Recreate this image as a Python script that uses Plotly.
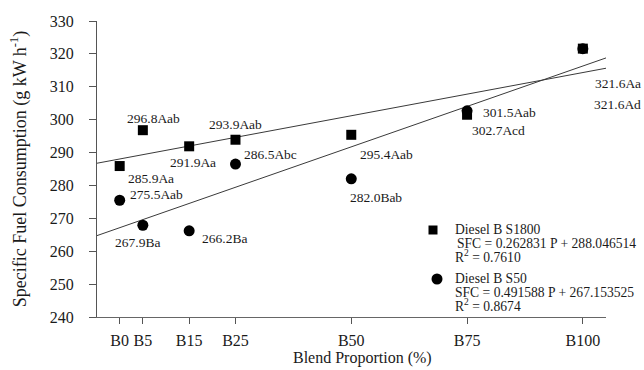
import numpy as np
import plotly.graph_objects as go

# ---------------- data ----------------
blend = [0, 5, 15, 25, 50, 75, 100]
tick_text = ["B0", "B5", "B15", "B25", "B50", "B75", "B100"]

s1800 = [285.9, 296.8, 291.9, 293.9, 295.4, 301.5, 321.6]
s1800_lbl = ["285.9Aa", "296.8Aab", "291.9Aa", "293.9Aab", "295.4Aab", "301.5Aab", "321.6Aa"]
s50 = [275.5, 267.9, 266.2, 286.5, 282.0, 302.7, 321.6]
s50_lbl = ["275.5Aab", "267.9Ba", "266.2Ba", "286.5Abc", "282.0Bab", "302.7Acd", "321.6Ad"]

# regression coefficients (slope, intercept) from the legend
fit_s1800 = (0.262831, 288.046514)
fit_s50 = (0.491588, 267.153525)

# ---------------- style ----------------
FONT = "Liberation Serif"
XR = [-4.9, 105.0]
YR = [240, 330]
L, R, T, B = 97, 38, 21, 53
W, H = 644, 370

# label offsets in pixels (dx, dy, xanchor) relative to marker
off_s1800 = [(31, -12, "center"), (11, 12, "center"), (4, -16, "center"), (0, 15, "center"),
             (35, -20, "center"), (42, 2, "center"), (60, -35, "right")]
off_s50 = [(37, 6, "center"), (-5, -17, "center"), (35, -8, "center"), (35, 10, "center"),
           (25, -19, "center"), (31, -20, "center"), (60, -56, "right")]

fig = go.Figure()

xl = np.array(XR)
for (m, b) in (fit_s1800, fit_s50):
    fig.add_trace(go.Scatter(x=xl, y=m * xl + b, mode="lines",
                             line=dict(color="#3a3a3a", width=1),
                             hoverinfo="skip", showlegend=False))

fig.add_trace(go.Scatter(x=blend, y=s1800, mode="markers",
                         marker=dict(symbol="square", size=10, color="black"),
                         showlegend=False, cliponaxis=False))
fig.add_trace(go.Scatter(x=blend, y=s50, mode="markers",
                         marker=dict(symbol="circle", size=11, color="black"),
                         showlegend=False, cliponaxis=False))

ann = []
for ys, ls, offs in ((s1800, s1800_lbl, off_s1800), (s50, s50_lbl, off_s50)):
    for x, y, t, (dx, dy, xa) in zip(blend, ys, ls, offs):
        ann.append(dict(x=x, y=y, xref="x", yref="y", text=t, showarrow=False,
                        xanchor=xa, xshift=dx, yshift=dy,
                        font=dict(family=FONT, size=13.5, color="#1a1a1a")))


def px2paper(X, Y):
    return (X - L) / float(W - L - R), (H - B - Y) / float(H - T - B)


# legend block
leg_rows = [
    (453, 229.5, "Diesel B S1800"),
    (455, 243, "SFC = 0.262831 P + 288.046514"),
    (453, 256.5, "R<sup>2</sup> = 0.7610"),
    (453, 278.5, "Diesel B S50"),
    (453, 292, "SFC = 0.491588 P + 267.153525"),
    (453, 305.5, "R<sup>2</sup> = 0.8674"),
]
for X, Y, t in leg_rows:
    px, py = px2paper(X, Y)
    ann.append(dict(x=px, y=py, xref="paper", yref="paper", text=t, showarrow=False,
                    xanchor="left", yanchor="middle",
                    font=dict(family=FONT, size=13.6, color="#1a1a1a")))

# x-axis title
tx, ty = px2paper(362, 358)
ann.append(dict(x=tx, y=ty, xref="paper", yref="paper", text="Blend Proportion (%)",
                showarrow=False, xanchor="center", yanchor="middle",
                font=dict(family=FONT, size=16, color="#1a1a1a")))

shapes = []
sx, sy = px2paper(433, 230)
shapes.append(dict(type="rect", xref="paper", yref="paper", xsizemode="pixel", ysizemode="pixel",
                   xanchor=sx, yanchor=sy, x0=-4.5, x1=4.5, y0=-4.5, y1=4.5,
                   fillcolor="black", line=dict(width=0)))
cx, cy = px2paper(437, 279)
shapes.append(dict(type="circle", xref="paper", yref="paper", xsizemode="pixel", ysizemode="pixel",
                   xanchor=cx, yanchor=cy, x0=-5.5, x1=5.5, y0=-5.5, y1=5.5,
                   fillcolor="black", line=dict(width=0)))

fig.update_layout(
    width=W, height=H,
    margin=dict(l=L, r=R, t=T, b=B),
    paper_bgcolor="white", plot_bgcolor="white",
    font=dict(family=FONT, color="#1a1a1a"),
    annotations=ann, shapes=shapes, showlegend=False,
    xaxis=dict(range=XR, tickvals=blend, ticktext=tick_text,
               showgrid=False, zeroline=False, showline=True, linecolor="#666", linewidth=1.2,
               ticks="outside", ticklen=6, tickcolor="#555", ticklabelstandoff=3,
               tickfont=dict(family=FONT, size=16, color="#1a1a1a")),
    yaxis=dict(range=YR, dtick=10, showgrid=False, zeroline=False, showline=True,
               linecolor="#555", linewidth=1.2, ticks="outside", ticklen=7, tickcolor="#555",
               ticklabelstandoff=12,
               tickfont=dict(family=FONT, size=16, color="#1a1a1a"),
               title=dict(text="Specific Fuel Consumption (g kW h<sup>-1</sup>)",
                          font=dict(family=FONT, size=18, color="#1a1a1a"), standoff=18)),
)

fig.write_html("out.html", config={"displayModeBar": False},
               post_script="document.body.style.margin='0px';document.body.style.overflow='hidden';")
